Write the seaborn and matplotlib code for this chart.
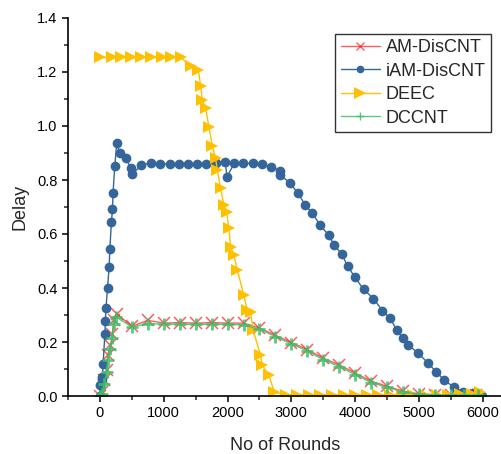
import numpy as np
import pandas as pd
import matplotlib
matplotlib.use("Agg")
import matplotlib.pyplot as plt
import seaborn as sns
from matplotlib.ticker import MultipleLocator, FormatStrFormatter

# ---- data ----
am_x = [0, 30, 65, 105, 120, 165, 195, 215, 260, 500, 750, 1000, 1250, 1500, 1750, 2000,
        2250, 2500, 2750, 3000, 3250, 3500, 3750, 4000, 4250, 4500, 4750, 5000, 5250, 5500,
        5750, 5900]
am_y = [0.0, 0.016, 0.059, 0.096, 0.151, 0.188, 0.23, 0.28, 0.305, 0.258, 0.28, 0.27, 0.272,
        0.27, 0.272, 0.27, 0.27, 0.252, 0.225, 0.198, 0.172, 0.14, 0.115, 0.085, 0.055, 0.036,
        0.018, 0.008, 0.005, 0.004, 0.003, 0.003]

dc_x = [0, 30, 65, 105, 120, 165, 195, 215, 250, 500, 750, 1000, 1250, 1500, 1750, 2000,
        2250, 2500, 2750, 3000, 3250, 3500, 3750, 4000, 4250, 4500, 4750, 5000, 5250, 5500,
        5700, 5920]
dc_y = [0.0, 0.008, 0.045, 0.088, 0.135, 0.175, 0.215, 0.265, 0.293, 0.256, 0.268, 0.266,
        0.266, 0.265, 0.266, 0.265, 0.264, 0.247, 0.22, 0.193, 0.167, 0.134, 0.109, 0.079,
        0.05, 0.032, 0.015, 0.006, 0.004, 0.003, 0.002, 0.002]

iam_x = [0, 5, 30, 40, 50, 78, 85, 95, 119, 145, 155, 181, 197, 206, 233, 264, 310, 403, 490,
         510, 651, 802, 947, 1092, 1232, 1378, 1523, 1664, 1820, 1966, 1990, 2106, 2247, 2400,
         2540, 2688, 2818, 2825, 2973, 3098, 3219, 3323, 3453, 3583, 3672, 3792, 3880, 4000,
         4130, 4286, 4427, 4547, 4651, 4745, 4833, 4990, 5145, 5266, 5396, 5547, 5693, 5839, 5980]
iam_y = [0.0, 0.04, 0.062, 0.071, 0.12, 0.228, 0.278, 0.325, 0.40, 0.479, 0.543, 0.646, 0.693,
         0.753, 0.853, 0.936, 0.901, 0.88, 0.843, 0.822, 0.855, 0.864, 0.86, 0.86, 0.86, 0.86,
         0.86, 0.86, 0.862, 0.865, 0.812, 0.862, 0.862, 0.862, 0.858, 0.849, 0.834, 0.818, 0.79,
         0.753, 0.707, 0.679, 0.632, 0.596, 0.559, 0.525, 0.481, 0.439, 0.395, 0.361, 0.316,
         0.288, 0.244, 0.214, 0.189, 0.158, 0.121, 0.09, 0.059, 0.032, 0.016, 0.012, 0.0]

deec_x = [5, 188, 328, 484, 640, 797, 969, 1109, 1266, 1422, 1542, 1578, 1605, 1656, 1708, 1761,
          1813, 1839, 1891, 1942, 1984, 2020, 2047, 2098, 2152, 2255, 2308, 2360, 2400, 2516,
          2542, 2645, 2734, 2922, 3089, 3270, 3453, 3636, 3817, 4000, 4183, 4364, 4547, 4730,
          4911, 5094, 5277, 5458, 5641, 5823, 5953]
deec_y = [1.254, 1.254, 1.254, 1.254, 1.254, 1.254, 1.254, 1.254, 1.254, 1.222, 1.207, 1.148,
          1.096, 1.065, 0.997, 0.927, 0.88, 0.837, 0.769, 0.707, 0.683, 0.621, 0.553, 0.522,
          0.467, 0.374, 0.319, 0.312, 0.244, 0.152, 0.115, 0.078, 0.014, 0.005, 0.005, 0.005,
          0.005, 0.005, 0.005, 0.005, 0.005, 0.005, 0.005, 0.005, 0.005, 0.005, 0.005, 0.005,
          0.006, 0.008, 0.016]

sns.set_style("ticks")
plt.rcParams['font.family'] = ['Liberation Sans', 'DejaVu Sans']

fig = plt.figure(figsize=(5.02, 4.54), dpi=100)
ax = fig.add_axes([68 / 502, 58 / 454, 434 / 502, 378 / 454])

series = [
    ("AM-DisCNT", am_x, am_y, dict(color="#ff1a1a", marker="x", markersize=9, mew=1.1,
                                   mec="#ff1a1a", alpha=0.7)),
    ("iAM-DisCNT", iam_x, iam_y, dict(color="#34659b", marker="o", markersize=7, mew=0)),
    ("DEEC", deec_x, deec_y, dict(color="#ffc000", marker=">", markersize=8, mew=0)),
    ("DCCNT", dc_x, dc_y, dict(color="#3cc06a", marker="+", markersize=9, mew=2.0,
                               mec="#3cc06a", alpha=0.85)),
]
for name, xs, ys, kw in series:
    df = pd.DataFrame({"x": xs, "y": ys})
    sns.lineplot(data=df, x="x", y="y", ax=ax, label=name, estimator=None,
                 sort=False, linewidth=1.0, **kw)

ax.set_xlim(-500, 6300)
ax.set_ylim(0, 1.4)
ax.xaxis.set_major_locator(MultipleLocator(1000))
ax.xaxis.set_minor_locator(MultipleLocator(500))
ax.yaxis.set_major_locator(MultipleLocator(0.2))
ax.yaxis.set_minor_locator(MultipleLocator(0.1))
ax.yaxis.set_major_formatter(FormatStrFormatter("%.1f"))
ax.tick_params(which="major", direction="out", length=4, width=1.1, labelsize=10.5, colors="black")
ax.tick_params(which="minor", direction="out", length=3, width=1.1)
for s in ["top", "right"]:
    ax.spines[s].set_visible(False)
for s in ["left", "bottom"]:
    ax.spines[s].set_linewidth(1.2)
    ax.spines[s].set_color("black")

ax.set_xlabel("No of Rounds", fontsize=13, labelpad=12)
ax.set_ylabel("Delay", fontsize=13, labelpad=6)

leg = ax.legend(loc="upper right", bbox_to_anchor=(0.975, 0.958), borderaxespad=0,
                fontsize=13, frameon=True, fancybox=False, handlelength=2.2,
                labelspacing=0.36, borderpad=0.3, handletextpad=0.3)
leg.get_frame().set_edgecolor("black")
leg.get_frame().set_linewidth(1.0)
# smaller handle markers, as in the reference legend
for h, ms, ew in zip(leg.legend_handles, [6, 5.5, 9, 6], [1.0, 0, 0, 1.0]):
    h.set_markersize(ms)
    h.set_markeredgewidth(ew)

fig.savefig("out.png", dpi=100)
